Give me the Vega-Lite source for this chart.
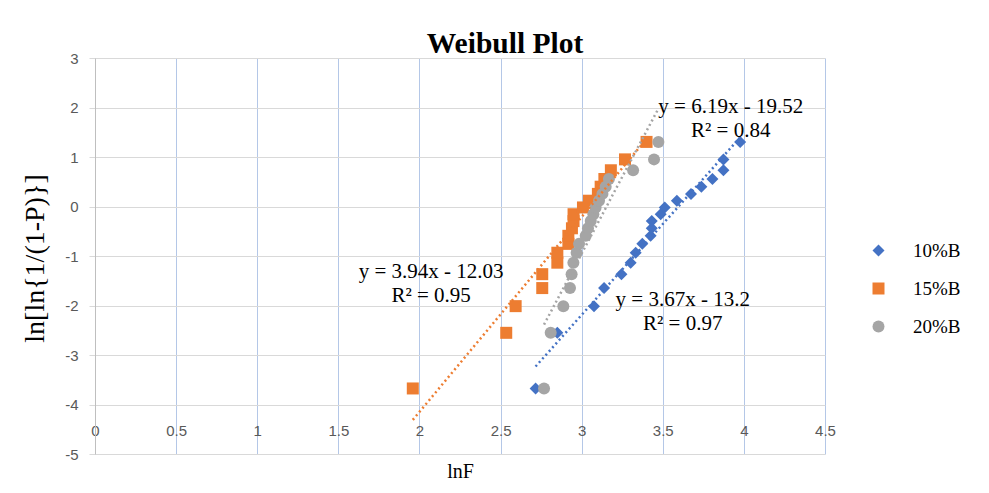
{
  "$schema": "https://vega.github.io/schema/vega-lite/v6.json",
  "width": 730,
  "height": 396,
  "autosize": "none",
  "padding": {"left": 95, "top": 58, "right": 164, "bottom": 39},
  "background": "white",
  "config": {"view": {"stroke": null}},
  "title": {"text": "Weibull Plot", "font": "Liberation Serif", "fontSize": 29.5, "fontWeight": "bold", "color": "#000000", "anchor": "middle", "frame": "group", "dx": 45, "offset": -31, "baseline": "alphabetic"},
  "datasets": {
    "points": [
      {"series": "10%B", "x": 2.716, "y": -3.676},
      {"series": "10%B", "x": 2.85, "y": -2.552},
      {"series": "10%B", "x": 3.076, "y": -2.013},
      {"series": "10%B", "x": 3.138, "y": -1.648},
      {"series": "10%B", "x": 3.245, "y": -1.367},
      {"series": "10%B", "x": 3.302, "y": -1.135},
      {"series": "10%B", "x": 3.333, "y": -0.934},
      {"series": "10%B", "x": 3.374, "y": -0.755},
      {"series": "10%B", "x": 3.425, "y": -0.592},
      {"series": "10%B", "x": 3.432, "y": -0.44},
      {"series": "10%B", "x": 3.432, "y": -0.295},
      {"series": "10%B", "x": 3.487, "y": -0.156},
      {"series": "10%B", "x": 3.512, "y": -0.019},
      {"series": "10%B", "x": 3.587, "y": 0.117},
      {"series": "10%B", "x": 3.674, "y": 0.255},
      {"series": "10%B", "x": 3.738, "y": 0.4},
      {"series": "10%B", "x": 3.806, "y": 0.556},
      {"series": "10%B", "x": 3.874, "y": 0.732},
      {"series": "10%B", "x": 3.874, "y": 0.952},
      {"series": "10%B", "x": 3.977, "y": 1.305},
      {"series": "15%B", "x": 1.959, "y": -3.676},
      {"series": "15%B", "x": 2.535, "y": -2.552},
      {"series": "15%B", "x": 2.593, "y": -2.013},
      {"series": "15%B", "x": 2.757, "y": -1.648},
      {"series": "15%B", "x": 2.757, "y": -1.367},
      {"series": "15%B", "x": 2.85, "y": -1.135},
      {"series": "15%B", "x": 2.85, "y": -0.934},
      {"series": "15%B", "x": 2.918, "y": -0.755},
      {"series": "15%B", "x": 2.918, "y": -0.592},
      {"series": "15%B", "x": 2.94, "y": -0.44},
      {"series": "15%B", "x": 2.95, "y": -0.295},
      {"series": "15%B", "x": 2.95, "y": -0.156},
      {"series": "15%B", "x": 3.008, "y": -0.019},
      {"series": "15%B", "x": 3.045, "y": 0.117},
      {"series": "15%B", "x": 3.1, "y": 0.255},
      {"series": "15%B", "x": 3.117, "y": 0.4},
      {"series": "15%B", "x": 3.14, "y": 0.556},
      {"series": "15%B", "x": 3.18, "y": 0.732},
      {"series": "15%B", "x": 3.267, "y": 0.952},
      {"series": "15%B", "x": 3.4, "y": 1.305},
      {"series": "20%B", "x": 2.768, "y": -3.676},
      {"series": "20%B", "x": 2.809, "y": -2.552},
      {"series": "20%B", "x": 2.887, "y": -2.013},
      {"series": "20%B", "x": 2.928, "y": -1.648},
      {"series": "20%B", "x": 2.938, "y": -1.367},
      {"series": "20%B", "x": 2.949, "y": -1.135},
      {"series": "20%B", "x": 2.969, "y": -0.934},
      {"series": "20%B", "x": 2.984, "y": -0.755},
      {"series": "20%B", "x": 3.025, "y": -0.592},
      {"series": "20%B", "x": 3.039, "y": -0.44},
      {"series": "20%B", "x": 3.056, "y": -0.295},
      {"series": "20%B", "x": 3.072, "y": -0.156},
      {"series": "20%B", "x": 3.086, "y": -0.019},
      {"series": "20%B", "x": 3.107, "y": 0.117},
      {"series": "20%B", "x": 3.128, "y": 0.255},
      {"series": "20%B", "x": 3.148, "y": 0.4},
      {"series": "20%B", "x": 3.168, "y": 0.556},
      {"series": "20%B", "x": 3.317, "y": 0.732},
      {"series": "20%B", "x": 3.446, "y": 0.952},
      {"series": "20%B", "x": 3.473, "y": 1.305}
    ],
    "trends": [
      {"series": "10%B", "x": 2.716, "y": -3.232},
      {"series": "10%B", "x": 3.977, "y": 1.396},
      {"series": "15%B", "x": 1.959, "y": -4.311},
      {"series": "15%B", "x": 3.4, "y": 1.366},
      {"series": "20%B", "x": 2.768, "y": -2.386},
      {"series": "20%B", "x": 3.473, "y": 1.978}
    ],
    "labels": [
      {"series": "10%B", "eq": "y = 3.67x - 13.2", "r2": "R² = 0.97"},
      {"series": "15%B", "eq": "y = 3.94x - 12.03", "r2": "R² = 0.95"},
      {"series": "20%B", "eq": "y = 6.19x - 19.52", "r2": "R² = 0.84"}
    ]
  },
  "layer": [
    {
      "data": {"name": "points"},
      "mark": {"type": "point", "filled": true, "opacity": 1, "size": 144, "strokeWidth": 0},
      "encoding": {
        "x": {
          "field": "x", "type": "quantitative",
          "scale": {"domain": [0, 4.5], "nice": false, "zero": false},
          "axis": {
            "values": [0, 0.5, 1, 1.5, 2, 2.5, 3, 3.5, 4, 4.5],
            "labelExpr": "'' + datum.value",
            "grid": true, "gridColor": "#B4C7E7", "gridWidth": 1,
            "domain": false, "ticks": false, "tickSize": 0,
            "labelPadding": -24, "labelBaseline": "middle", "labelFlush": false,
            "labelFont": "Liberation Sans", "labelFontSize": 15, "labelColor": "#595959",
            "title": "lnF", "titleFont": "Liberation Serif", "titleFontSize": 20, "titleFontWeight": "normal", "titleColor": "#000000",
            "titleY": 23, "titleBaseline": "alphabetic"
          }
        },
        "y": {
          "field": "y", "type": "quantitative",
          "scale": {"domain": [-5, 3], "nice": false, "zero": false},
          "axis": {
            "values": [-5, -4, -3, -2, -1, 0, 1, 2, 3],
            "labelExpr": "'' + datum.value",
            "grid": true, "gridColor": "#D9D9D9", "gridWidth": 1,
            "domain": true, "domainColor": "#BFBFBF", "domainWidth": 1,
            "ticks": true, "tickColor": "#D9D9D9", "tickSize": 6,
            "labelPadding": 11,
            "labelFont": "Liberation Sans", "labelFontSize": 15, "labelColor": "#595959",
            "title": "ln[ln{1/(1-P)}]", "titleFont": "Liberation Serif", "titleFontSize": 28, "titleFontWeight": "normal", "titleColor": "#000000",
            "titleAngle": -90, "titleX": -60, "titleY": 200, "titleBaseline": "middle", "titleAlign": "center"
          }
        },
        "color": {
          "field": "series", "type": "nominal",
          "scale": {"domain": ["10%B", "15%B", "20%B"], "range": ["#4472C4", "#ED7D31", "#A5A5A5"]},
          "legend": {"orient": "none", "legendX": 774, "legendY": 183, "title": null,
            "labelFont": "Liberation Serif", "labelFontSize": 19, "labelColor": "#000000",
            "symbolSize": 144, "labelOffset": 25, "rowPadding": 18, "symbolStrokeWidth": 0}
        },
        "shape": {
          "field": "series", "type": "nominal",
          "scale": {"domain": ["10%B", "15%B", "20%B"], "range": ["diamond", "square", "circle"]}
        }
      }
    },
    {
      "data": {"name": "trends"},
      "mark": {"type": "line", "strokeWidth": 2.5, "strokeDash": [2, 3]},
      "encoding": {
        "x": {"field": "x", "type": "quantitative"},
        "y": {"field": "y", "type": "quantitative"},
        "stroke": {
          "field": "series", "type": "nominal",
          "scale": {"domain": ["10%B", "15%B", "20%B"], "range": ["#4472C4", "#ED7D31", "#A5A5A5"]},
          "legend": null
        },
        "detail": {"field": "series"}
      }
    },
    {
      "data": {"name": "labels"},
      "transform": [{"filter": "datum.series == '20%B'"}],
      "mark": {"type": "text", "font": "Liberation Serif", "fontSize": 21, "align": "center", "baseline": "alphabetic", "color": "#000000"},
      "encoding": {"x": {"datum": 3.919}, "y": {"datum": 1.888}, "text": {"field": "eq"}}
    },
    {
      "data": {"name": "labels"},
      "transform": [{"filter": "datum.series == '20%B'"}],
      "mark": {"type": "text", "font": "Liberation Serif", "fontSize": 21, "align": "center", "baseline": "alphabetic", "color": "#000000"},
      "encoding": {"x": {"datum": 3.919}, "y": {"datum": 1.403}, "text": {"field": "r2"}}
    },
    {
      "data": {"name": "labels"},
      "transform": [{"filter": "datum.series == '15%B'"}],
      "mark": {"type": "text", "font": "Liberation Serif", "fontSize": 21, "align": "center", "baseline": "alphabetic", "color": "#000000"},
      "encoding": {"x": {"datum": 2.072}, "y": {"datum": -1.445}, "text": {"field": "eq"}}
    },
    {
      "data": {"name": "labels"},
      "transform": [{"filter": "datum.series == '15%B'"}],
      "mark": {"type": "text", "font": "Liberation Serif", "fontSize": 21, "align": "center", "baseline": "alphabetic", "color": "#000000"},
      "encoding": {"x": {"datum": 2.072}, "y": {"datum": -1.93}, "text": {"field": "r2"}}
    },
    {
      "data": {"name": "labels"},
      "transform": [{"filter": "datum.series == '10%B'"}],
      "mark": {"type": "text", "font": "Liberation Serif", "fontSize": 21, "align": "center", "baseline": "alphabetic", "color": "#000000"},
      "encoding": {"x": {"datum": 3.623}, "y": {"datum": -2.011}, "text": {"field": "eq"}}
    },
    {
      "data": {"name": "labels"},
      "transform": [{"filter": "datum.series == '10%B'"}],
      "mark": {"type": "text", "font": "Liberation Serif", "fontSize": 21, "align": "center", "baseline": "alphabetic", "color": "#000000"},
      "encoding": {"x": {"datum": 3.623}, "y": {"datum": -2.496}, "text": {"field": "r2"}}
    }
  ]
}
